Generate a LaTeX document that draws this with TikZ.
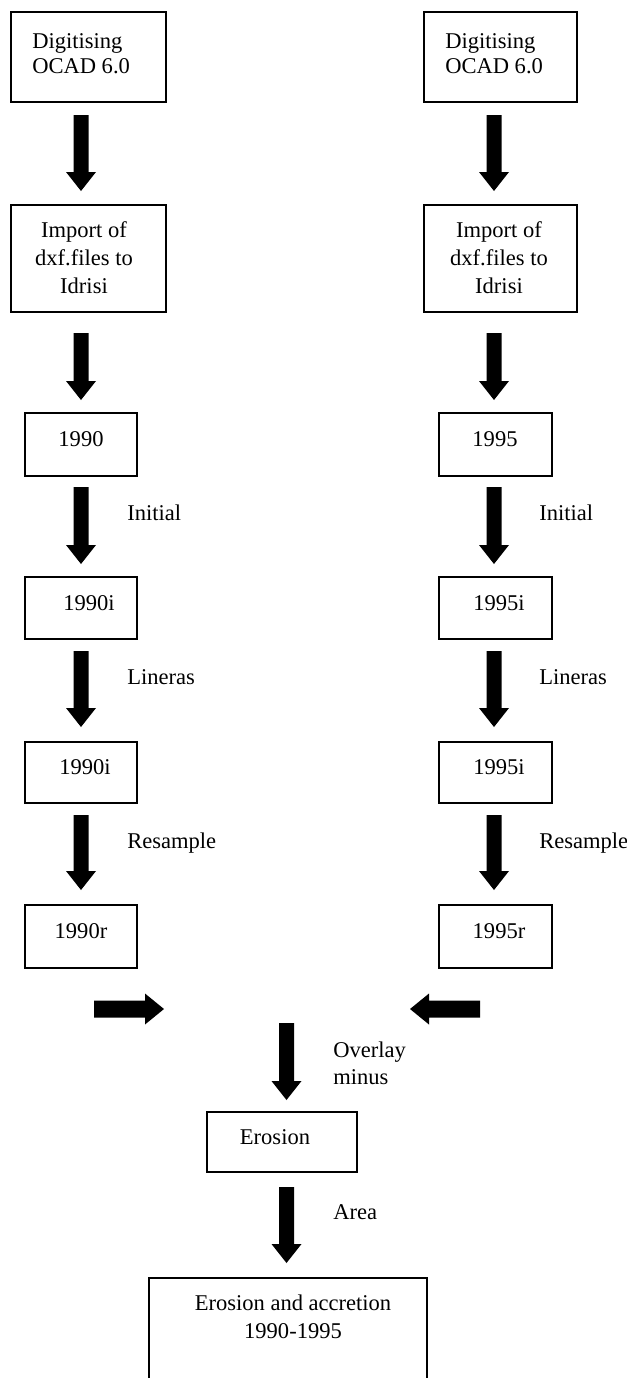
\documentclass[tikz,border=0pt]{standalone}
\usepackage{fontspec}
\setmainfont{Liberation Serif}
\usetikzlibrary{calc,fit}
\tikzset{
  box/.style={draw, line width=1.1pt, inner sep=0pt},
  txt/.style={font=\fontsize{16.9}{20.25}\selectfont, inner sep=0pt, anchor=base, align=center},
  lbl/.style={font=\fontsize{16.9}{20.25}\selectfont, inner sep=0pt, anchor=base west, align=left},
  blk/.style={fill=black}
}
\newcommand\dnarr[2]{\fill[blk] ($(#1)+(-7.5,0)$) -- ($(#2)+(-7.5,-19)$) -- ($(#2)+(-15,-19)$) -- (#2) -- ($(#2)+(15,-19)$) -- ($(#2)+(7.5,-19)$) -- ($(#1)+(7.5,0)$) -- cycle;}
\newcommand\rtarr[2]{\fill[blk] ($(#1)+(0,-8.5)$) -- ($(#2)+(-19,-8.5)$) -- ($(#2)+(-19,-15.5)$) -- (#2) -- ($(#2)+(-19,15.5)$) -- ($(#2)+(-19,8.5)$) -- ($(#1)+(0,8.5)$) -- cycle;}
\newcommand\ltarr[2]{\fill[blk] ($(#1)+(0,-8.5)$) -- ($(#2)+(19,-8.5)$) -- ($(#2)+(19,-15.5)$) -- (#2) -- ($(#2)+(19,15.5)$) -- ($(#2)+(19,8.5)$) -- ($(#1)+(0,8.5)$) -- cycle;}
\begin{document}
\begin{tikzpicture}[x=0.75pt,y=-0.75pt]
\useasboundingbox (0,0) rectangle (627,1378);
\clip (0,0) rectangle (627,1378);
% boxes
\node[box, fit={(11,12)(166,102)}] (L1) {};
\node[box, fit={(11,205)(166,312)}] (L2) {};
\node[box, fit={(25,413)(137,476)}] (L3) {};
\node[box, fit={(25,577)(137,639)}] (L4) {};
\node[box, fit={(25,742)(137,803)}] (L5) {};
\node[box, fit={(25,905)(137,968)}] (L6) {};
\node[box, fit={(424,12)(577,102)}] (R1) {};
\node[box, fit={(424,205)(577,312)}] (R2) {};
\node[box, fit={(439,413)(552,476)}] (R3) {};
\node[box, fit={(439,577)(552,639)}] (R4) {};
\node[box, fit={(439,742)(552,803)}] (R5) {};
\node[box, fit={(439,905)(552,968)}] (R6) {};
\node[box, fit={(207,1112)(357,1172)}] (E) {};
\node[box, fit={(149,1278)(427,1400)}] (F) {};
% box texts (multi-line nodes: base = last line)
\node[lbl, font=\fontsize{16.9}{18.75}\selectfont] (tL1) at (32,73) {Digitising\\OCAD 6.0};
\node[lbl, font=\fontsize{16.9}{18.75}\selectfont] (tR1) at (445,73) {Digitising\\OCAD 6.0};
\node[txt, font=\fontsize{16.9}{21}\selectfont] (tL2) at (84,293) {Import of\\dxf.files to\\Idrisi};
\node[txt, font=\fontsize{16.9}{21}\selectfont] (tR2) at (499,293) {Import of\\dxf.files to\\Idrisi};
\node[txt] (tL3) at (81,446) {1990};
\node[txt] (tR3) at (495,446) {1995};
\node[txt] (tL4) at (89,610) {1990i};
\node[txt] (tR4) at (499,610) {1995i};
\node[txt] (tL5) at (85,774) {1990i};
\node[txt] (tR5) at (499,774) {1995i};
\node[txt] (tL6) at (81,938) {1990r};
\node[txt] (tR6) at (499,938) {1995r};
\node[txt] (tE) at (275,1144) {Erosion};
\node[txt, font=\fontsize{16.9}{21}\selectfont] (tF) at (293,1338) {Erosion and accretion\\1990-1995};
% arrow labels
\node[lbl] (iL) at (127,520) {Initial};
\node[lbl] (iR) at (539,520) {Initial};
\node[lbl] (lL) at (127,684) {Lineras};
\node[lbl] (lR) at (539,684) {Lineras};
\node[lbl] (rL) at (127,848) {Resample};
\node[lbl] (rR) at (539,848) {Resample};
\node[lbl] (ov) at (333,1084) {Overlay\\minus};
\node[lbl] (ar) at (333,1219) {Area};
% arrow end points
\coordinate (a1s) at (81,115);  \coordinate (a1t) at (81,191);
\coordinate (a2s) at (81,333);  \coordinate (a2t) at (81,400);
\coordinate (a3s) at (81,487);  \coordinate (a3t) at (81,564);
\coordinate (a4s) at (81,651);  \coordinate (a4t) at (81,727);
\coordinate (a5s) at (81,815);  \coordinate (a5t) at (81,890);
\coordinate (b1s) at (494,115); \coordinate (b1t) at (494,191);
\coordinate (b2s) at (494,333); \coordinate (b2t) at (494,400);
\coordinate (b3s) at (494,487); \coordinate (b3t) at (494,564);
\coordinate (b4s) at (494,651); \coordinate (b4t) at (494,727);
\coordinate (b5s) at (494,815); \coordinate (b5t) at (494,890);
\coordinate (hls) at (94,1009);  \coordinate (hlt) at (164,1009);
\coordinate (hrs) at (480,1009); \coordinate (hrt) at (410,1009);
\coordinate (c1s) at (286.5,1023); \coordinate (c1t) at (286.5,1100);
\coordinate (c2s) at (286.5,1187); \coordinate (c2t) at (286.5,1263);
% arrows
\dnarr{a1s}{a1t} \dnarr{a2s}{a2t} \dnarr{a3s}{a3t} \dnarr{a4s}{a4t} \dnarr{a5s}{a5t}
\dnarr{b1s}{b1t} \dnarr{b2s}{b2t} \dnarr{b3s}{b3t} \dnarr{b4s}{b4t} \dnarr{b5s}{b5t}
\rtarr{hls}{hlt}
\ltarr{hrs}{hrt}
\dnarr{c1s}{c1t} \dnarr{c2s}{c2t}
\end{tikzpicture}
\end{document}
